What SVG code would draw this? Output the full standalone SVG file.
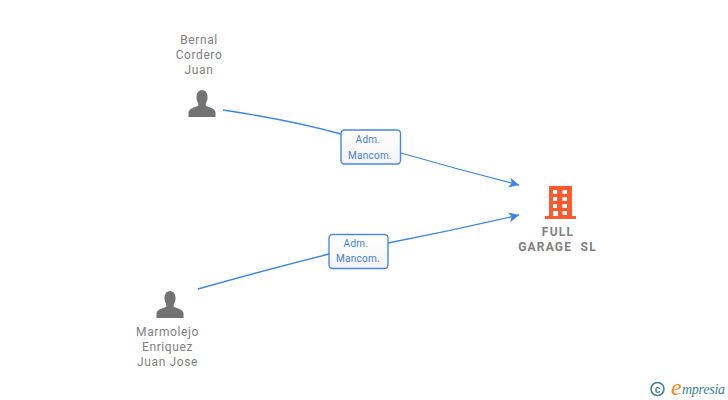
<svg xmlns="http://www.w3.org/2000/svg" width="728" height="400" viewBox="0 0 728 400">
<style>
.n{font-family:Roboto,"Liberation Sans",sans-serif;font-size:12px;fill:#808080;text-anchor:middle;letter-spacing:.6px}
.b{font-family:Roboto,"Liberation Sans",sans-serif;font-size:12px;font-weight:700;fill:#808080;text-anchor:middle;letter-spacing:1.2px}
.l{font-family:Roboto,"Liberation Sans",sans-serif;font-size:10px;fill:#3f7fdc;text-anchor:middle;letter-spacing:.3px}
.c{fill:none;stroke:#3f84e5;stroke-width:1.300}
.box{fill:#fff;stroke:#4a88e0;stroke-width:1.400}
.p{fill:#737373}
</style>
<defs>
<marker id="a" markerWidth="12" markerHeight="12" refX="10" refY="5" orient="auto" markerUnits="userSpaceOnUse"><path d="M0 0L10 5L0 10L2.500 5Z" fill="#3f84e5"/></marker>
<linearGradient id="g" x1="0" y1="0" x2="0" y2="1"><stop offset="0" stop-color="#fff"/><stop offset="1" stop-color="#f4f4f4"/></linearGradient>
<path id="person" d="M-4 -1.500C-6.500 -4 -6.500 -14 0 -14C6.500 -14 6.500 -4 4 -1.500L3.600 1.500C7 3.500 13.500 4.500 13.500 8.500L13.500 13L-13.500 13L-13.500 8.500C-13.500 4.500 -7 3.500 -3.600 1.500Z"/>
</defs>
<g id="connectors">
<path class="c" marker-end="url(#a)" d="M223 110Q290 120 341 134M401 153Q460 170 519 185"/>
<path class="c" marker-end="url(#a)" d="M198 289Q265 270 329 254M388 243Q455 230 519 215"/>
</g>
<g id="edge-label-1"><rect class="box" style="fill:url(#g)" x="341" y="130" width="59.500" height="34" rx="3.500"/><text class="l" x="368" y="143">Adm.</text><text class="l" x="370" y="159">Mancom.</text></g>
<g id="edge-label-2"><rect class="box" style="fill:url(#g)" x="329" y="234.500" width="59" height="34" rx="3.500"/><text class="l" x="356" y="247">Adm.</text><text class="l" x="358" y="262">Mancom.</text></g>
<g id="node-bernal"><text class="n" x="199" y="44">Bernal</text><text class="n" x="199" y="59">Cordero</text><text class="n" x="199" y="74">Juan</text><use href="#person" class="p" x="202" y="104"/></g>
<g id="node-marmolejo"><text class="n" x="167.500" y="336">Marmolejo</text><text class="n" x="167.500" y="351">Enriquez</text><text class="n" x="167.500" y="366">Juan Jose</text><use href="#person" class="p" x="170" y="305"/></g>
<g id="node-full-garage">
<path fill="#ff5a2d" fill-rule="evenodd" d="M549 186H572V216H576V219H545V216H549ZM553 190V194H557V190ZM562.500 190V194H567V190ZM553 197V201H557V197ZM562.500 197V201H567V197ZM553 204V208H557V204ZM562.500 204V208H567V204ZM553 211V216H558V211ZM562.500 211V215H567V211Z"/>
<text class="b" x="558" y="236">FULL</text><text class="b" x="557.500" y="251" xml:space="preserve">GARAGE  SL</text></g>
<g id="logo">
<circle cx="657.500" cy="389" r="6.500" fill="none" stroke="#3b7f92" stroke-width="1.500"/>
<text x="657.500" y="392.500" font-family="Liberation Sans,sans-serif" font-size="10" font-weight="700" fill="#3b7f92" text-anchor="middle">c</text>
<text x="671" y="395" font-family="Liberation Serif,serif" font-style="italic" font-size="24" fill="#f08a1d">e</text>
<text x="682" y="394" font-family="Liberation Serif,serif" font-style="italic" font-size="14" fill="#3b7f92" textLength="43">mpresia</text>
</g>
</svg>
